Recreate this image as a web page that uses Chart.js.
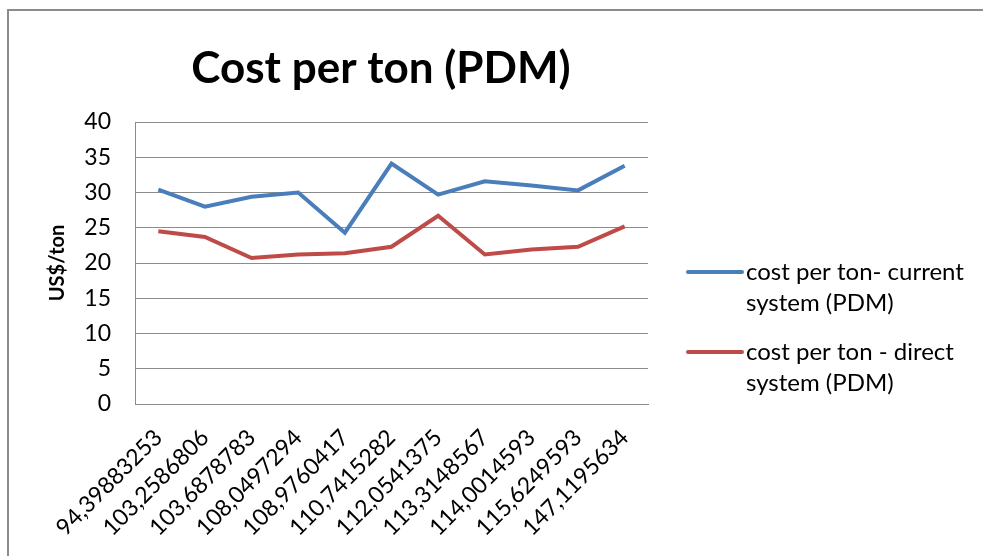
<!DOCTYPE html>
<html>
<head>
<meta charset="utf-8">
<script src="https://cdn.jsdelivr.net/npm/chart.js@4.4.1/dist/chart.umd.min.js"></script>
<style>
  html, body { margin: 0; padding: 0; background: #fff; overflow: hidden; }
  #frame { position: absolute; left: 7px; top: 9px; width: 2000px; height: 1000px; border: 2px solid #8c8c8c; }
  #wrap { position: absolute; left: 0; top: 0; width: 983px; height: 556px; }
</style>
</head>
<body>
<div id="frame"></div>
<div id="wrap"><canvas id="costChart" width="983" height="556"></canvas></div>
<script>
// data
var categories = ['94,39883253', '103,2586806', '103,6878783', '108,0497294', '108,9760417',
  '110,7415282', '112,0541375', '113,3148567', '114,0014593', '115,6249593', '147,1195634'];
var currentSystem = [30.4, 28.0, 29.4, 30.0, 24.3, 34.1, 29.7, 31.6, 31.0, 30.3, 33.8];
var directSystem = [24.5, 23.7, 20.7, 21.2, 21.4, 22.3, 26.7, 21.2, 21.9, 22.3, 25.2];
var seriesNames = ['cost per ton- current system (PDM)', 'cost per ton - direct system (PDM)'];
var legendLines = [['cost per ton- current', 'system (PDM)'], ['cost per ton - direct', 'system (PDM)']];
var yTicks = [0, 5, 10, 15, 20, 25, 30, 35, 40];

var FONT = 'Lato';
var gridGrey = '#8c8c8c';

// title + legend drawn by hand (legend needs wrapped text)
var extras = {
    id: 'extras',
    afterDraw: function (chart) {
        var c = chart.ctx;
        var area = chart.chartArea;
        c.save();
        c.fillStyle = '#000';
        c.textBaseline = 'middle';
        c.textAlign = 'center';
        c.font = 'bold 44px ' + FONT;
        c.fillText('Cost per ton (PDM)', 381, 69);

        c.textAlign = 'left';
        c.font = '24px ' + FONT;
        var y0 = [272, 352];
        chart.data.datasets.forEach(function (ds, i) {
            c.strokeStyle = ds.borderColor;
            c.lineWidth = 4;
            c.lineCap = 'round';
            c.beginPath();
            c.moveTo(area.right + 40, y0[i]);
            c.lineTo(area.right + 94, y0[i]);
            c.stroke();
            legendLines[i].forEach(function (line, j) {
                c.fillText(line, area.right + 98, y0[i] + j * 31);
            });
        });
        c.restore();
    }
};

var ctx = document.getElementById('costChart').getContext('2d');
new Chart(ctx, {
    type: 'line',
    data: {
        labels: categories,
        datasets: [{
            label: seriesNames[0],
            data: currentSystem,
            borderColor: '#4a7ebb',
            borderWidth: 4,
            pointRadius: 0,
            tension: 0
        }, {
            label: seriesNames[1],
            data: directSystem,
            borderColor: '#be4b48',
            borderWidth: 4,
            pointRadius: 0,
            tension: 0
        }]
    },
    options: {
        responsive: false,
        animation: false,
        layout: { padding: { top: 122, left: 0, right: 335, bottom: 0 } },
        plugins: {
            legend: { display: false },
            title: { display: false },
            tooltip: { enabled: false }
        },
        scales: {
            x: {
                offset: true,
                grid: { display: false },
                border: { display: true, color: gridGrey, width: 1 },
                ticks: {
                    color: '#000',
                    font: { family: FONT, size: 23 },
                    minRotation: 45,
                    maxRotation: 45,
                    autoSkip: false,
                    padding: 12
                },
                afterFit: function (scale) { scale.height = 152; }
            },
            y: {
                min: 0,
                max: 40,
                afterBuildTicks: function (scale) {
                    scale.ticks = yTicks.map(function (v) { return { value: v }; });
                },
                grid: { color: gridGrey, drawTicks: false, lineWidth: 1 },
                border: { display: true, color: gridGrey, width: 1 },
                ticks: {
                    color: '#000',
                    font: { family: FONT, size: 23 },
                    padding: 24
                },
                title: {
                    display: true,
                    text: 'US$/ton',
                    color: '#000',
                    font: { family: FONT, size: 20, weight: 'bold' },
                    padding: { top: 46, bottom: 0 }
                },
                afterFit: function (scale) { scale.width = 135; }
            }
        }
    },
    plugins: [extras]
});
</script>
</body>
</html>
